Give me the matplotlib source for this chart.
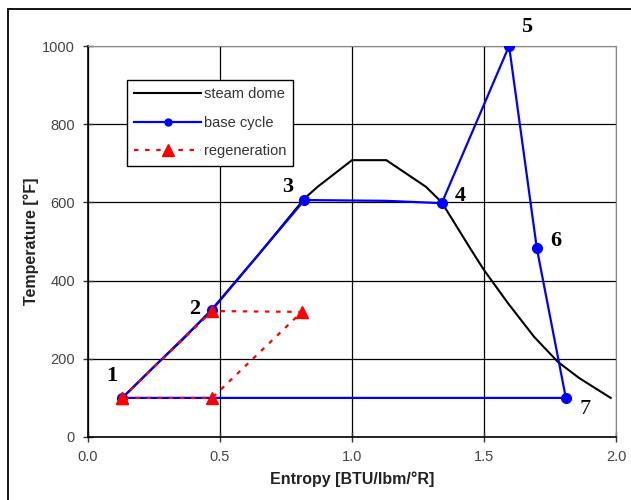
import matplotlib.pyplot as plt
from matplotlib.patches import Rectangle

# steam dome (saturation curve)
dome_s = [0.13, 0.25, 0.36, 0.47, 0.65, 0.82, 0.87, 1.0, 1.13, 1.28, 1.34, 1.45, 1.5, 1.59, 1.69, 1.78, 1.86, 1.98]
dome_T = [100, 180, 250, 327, 470, 610, 640, 708, 708, 640, 600, 480, 427, 343, 256, 192, 151, 100]

# base cycle, states 1-7 and back to 1
base_s = [0.13, 0.47, 0.82, 1.13, 1.34, 1.595, 1.70, 1.81, 0.13]
base_T = [100, 325, 606, 604, 598, 1000, 483, 100, 100]
marker_idx = [0, 1, 2, 4, 5, 6, 7]

# regeneration loop
regen_s = [0.13, 0.47, 0.81, 0.47, 0.13]
regen_T = [100, 322, 320, 100, 100]

state_labels = ["1", "2", "3", "4", "5", "6", "7"]
label_offsets = [(-11, 22), (-17, 1), (-17, 13), (18, 7), (18, 19), (19, 7), (19, -12)]

fig = plt.figure(figsize=(6.31, 5.0), dpi=100)
ax = fig.add_axes([88 / 631, 63 / 500, 528 / 631, 391 / 500])

ax.plot(dome_s, dome_T, color="black", lw=1.5, zorder=2, label="steam dome")
ax.plot(base_s, base_T, color="blue", lw=1.6, marker="o", ms=7,
        markevery=marker_idx, zorder=3, label="base cycle")
ax.plot(regen_s, regen_T, color="red", lw=1.6, linestyle=(0, (2, 3)),
        marker="^", ms=9, zorder=4, label="regeneration")

for i, (lab, off) in enumerate(zip(state_labels, label_offsets)):
    k = marker_idx[i]
    ax.annotate(lab, (base_s[k], base_T[k]), xytext=off, textcoords="offset pixels",
                ha="center", va="center", fontsize=16, family="Liberation Serif",
                fontweight="normal" if lab == "7" else "bold", zorder=5)

ax.set_xlim(0, 2.0)
ax.set_ylim(0, 1000)
ax.set_xticks([0.0, 0.5, 1.0, 1.5, 2.0])
ax.set_xticklabels(["0.0", "0.5", "1.0", "1.5", "2.0"])
ax.set_yticks([0, 200, 400, 600, 800, 1000])
ax.grid(True, color="black", lw=0.9)
ax.set_axisbelow(True)
ax.tick_params(direction="inout", length=7, width=1, labelsize=10.5, colors="#333333",
               labelcolor="#444444", pad=6)
for side in ["top", "right"]:
    ax.spines[side].set_color("#888888")
for side in ["left", "bottom"]:
    ax.spines[side].set_linewidth(1.2)

ax.set_xlabel("Entropy [BTU/lbm/°R]", fontsize=11.5, fontweight="bold", family="Liberation Sans",
              labelpad=5, color="#222222")
ax.set_ylabel("Temperature [°F]", fontsize=11.5, fontweight="bold", family="Liberation Sans",
              labelpad=2, color="#222222")
for t in ax.get_xticklabels() + ax.get_yticklabels():
    t.set_family("Liberation Sans")

leg = ax.legend(loc="upper left", bbox_to_anchor=(0.074, 0.913), borderaxespad=0,
                fancybox=False, edgecolor="black", framealpha=1,
                handlelength=4.6, handletextpad=0.15, borderpad=0.5, labelspacing=1.0,
                prop={"family": "Liberation Sans", "size": 10.5})
leg.get_frame().set_linewidth(1.0)
for txt in leg.get_texts():
    txt.set_color("#333333")
leg.legend_handles[1].set_markersize(5)

# chart area border
fig.patches.append(Rectangle((8 / 631, -0.1), 1.2, 1.082, transform=fig.transFigure,
                             fill=False, edgecolor="black", lw=1.3))

fig.savefig("out.png", dpi=100)
